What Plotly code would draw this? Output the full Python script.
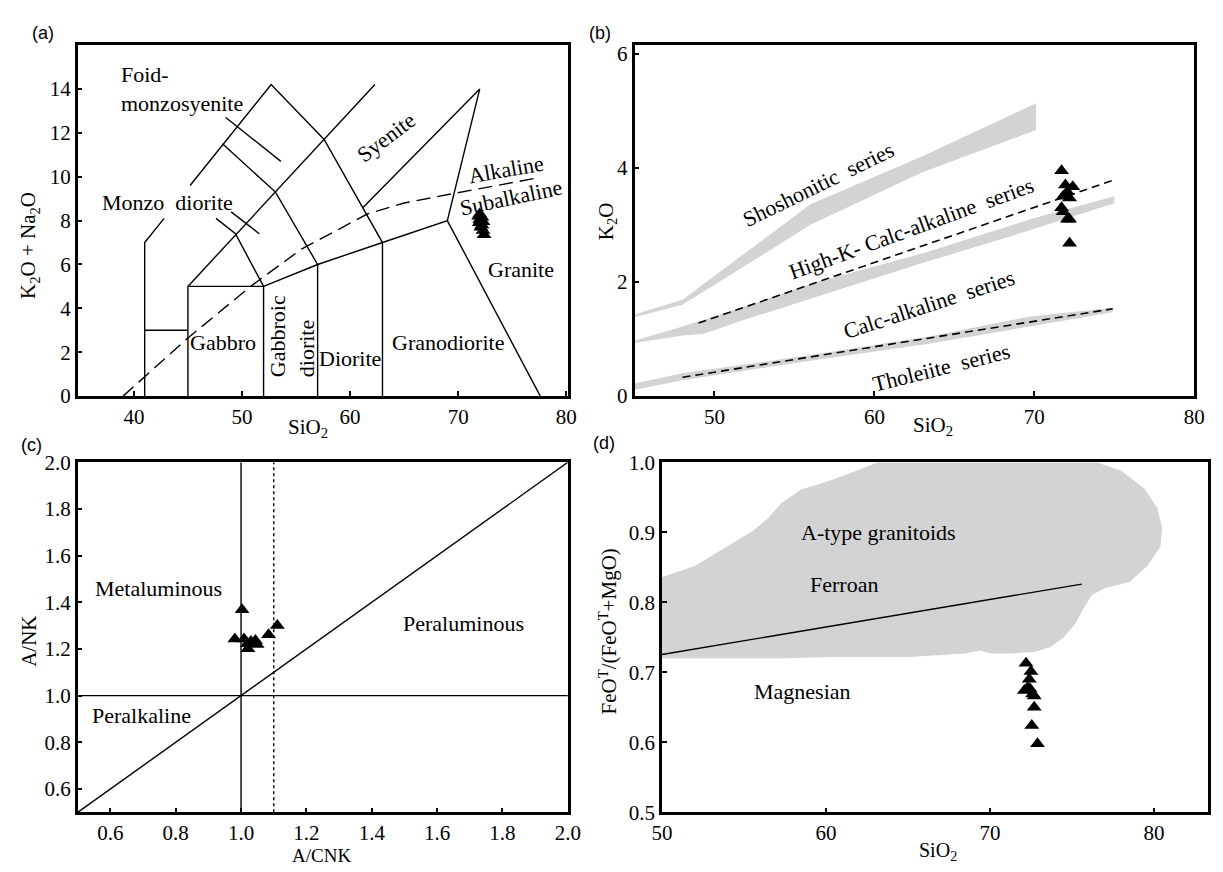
import plotly.graph_objects as go

W, H = 1223, 872
SERIF = "Liberation Serif"
SANS = "Liberation Sans"
GRAY = "#d1d3d4"

# ---------------- Panel (a): TAS diagram ----------------
a_b1_x = [41, 41, 42.8]
a_b1_y = [0, 7, 8.1]
a_b2_x = [45.2, 52.7, 57.6, 63, 63]
a_b2_y = [9.6, 14.2, 11.7, 7, 0]
a_b3_x = [52, 52, 45, 45]
a_b3_y = [0, 5, 5, 0]
a_b4_x = [41, 45]
a_b4_y = [3, 3]
a_b5_x = [45, 62.3]
a_b5_y = [5, 14.2]
a_b6_x = [52, 57, 63, 69, 72, 61.2]
a_b6_y = [5, 6, 7, 8, 14, 8.6]
a_b7_x = [69, 77.6]
a_b7_y = [8, 0]
a_b8_x = [57, 57]
a_b8_y = [0, 6]
a_b9_x = [48.2, 53.1, 57]
a_b9_y = [11.5, 9.3, 6]
a_b10_x = [47.6, 49.4, 52]
a_b10_y = [8.1, 7.4, 5]
a_b11_x = [48.5, 53.6]
a_b11_y = [12.7, 10.7]
a_b12_x = [49.0, 51.6]
a_b12_y = [8.4, 7.4]
a_alk_x = [39, 45, 50.8, 55.5, 61.6, 65, 69.2, 77.4]
a_alk_y = [0, 2.65, 5.0, 6.7, 8.3, 8.8, 9.2, 9.95]

a_sio2 = [72.0, 71.9, 72.2, 72.0, 72.1, 72.3, 71.95, 72.2, 72.1, 72.3, 72.4]
a_alk = [8.3, 8.2, 8.15, 8.05, 8.0, 7.95, 7.9, 7.8, 7.7, 7.55, 7.35]

a_labels = ["Foid-<br>monzosyenite", "Syenite", "Alkaline", "Subalkaline",
            "Monzo  diorite", "Granite", "Gabbro", "Gabbroic<br>diorite",
            "Diorite", "Granodiorite"]
a_lab_x = [38.6, 63.3, 74.4, 74.9, 43.1, 75.8, 48.2, 54.7, 60.0, 69.1]
a_lab_y = [14.0, 11.8, 10.35, 9.05, 8.84, 5.78, 2.44, 2.72, 1.7, 2.44]
a_lab_ang = [0, -37, -10, -12, 0, 0, 0, -90, 0, 0]

# ---------------- Panel (b): K2O vs SiO2 ----------------
b_band1_x = [45, 48, 56, 63, 70.1, 70.1, 63, 56, 48, 45]
b_band1_y = [1.43, 1.69, 3.36, 4.2, 5.13, 4.66, 3.92, 3.0, 1.6, 1.38]
b_band2_x = [45, 48, 52, 56.4, 63, 70, 75, 75, 70, 63, 56.4, 52, 49.3, 48, 45]
b_band2_y = [0.97, 1.22, 1.58, 2.0, 2.5, 3.12, 3.5, 3.38, 2.93, 2.33, 1.74, 1.35, 1.09, 1.06, 0.93]
b_band3_x = [45, 48, 56, 63.5, 69.6, 74.9, 74.9, 69.6, 63.5, 56, 48, 45]
b_band3_y = [0.22, 0.40, 0.72, 1.05, 1.39, 1.55, 1.47, 1.22, 0.92, 0.62, 0.28, 0.11]
b_hk_x = [49, 74.9]
b_hk_y = [1.28, 3.78]
b_th_x = [48, 74.9]
b_th_y = [0.33, 1.53]

b_sio2 = [71.7, 71.94, 72.4, 72.06, 71.8, 72.2, 71.7, 71.8, 72.06, 72.2, 72.2]
b_k2o = [3.95, 3.70, 3.67, 3.58, 3.50, 3.47, 3.30, 3.23, 3.10, 3.10, 2.68]

b_labels = ["Shoshonitic  series", "High-K- Calc-alkaline  series",
            "Calc-alkaline  series", "Tholeiite  series"]
b_lab_x = [56.5, 62.3, 63.4, 64.2]
b_lab_y = [3.70, 2.94, 1.60, 0.50]
b_lab_ang = [-26, -20, -18, -14]

# ---------------- Panel (c): A/NK vs A/CNK ----------------
c_acnk = [0.981, 1.003, 1.009, 1.019, 1.030, 1.021, 1.044, 1.049, 1.084, 1.111]
c_anK = [1.243, 1.368, 1.243, 1.222, 1.232, 1.201, 1.236, 1.219, 1.261, 1.301]
c_labels = ["Metaluminous", "Peraluminous", "Peralkaline"]
c_lab_x = [0.746, 1.68, 0.696]
c_lab_y = [1.458, 1.31, 0.917]

# ---------------- Panel (d): FeOT/(FeOT+MgO) vs SiO2 ----------------
d_field_x = [50, 52.0, 55.6, 56.5, 57.3, 58.5, 60.4, 63.2, 76.5, 78.0, 79.4, 80.2, 80.5,
             80.4, 79.6, 78.5, 77.0, 76.2, 75.6, 75.2, 74.5, 73.7, 72.7, 71.3, 70.1,
             69.4, 68.5, 67.0, 65.1, 62.7, 60.4, 57.5, 55.1, 50]
d_field_y = [0.836, 0.852, 0.903, 0.921, 0.942, 0.961, 0.975, 1.0, 1.0, 0.988, 0.963,
             0.935, 0.907, 0.880, 0.852, 0.829, 0.820, 0.810, 0.787, 0.769, 0.750,
             0.736, 0.729, 0.727, 0.727, 0.731, 0.727, 0.725, 0.722, 0.722, 0.722,
             0.720, 0.720, 0.720]
d_line_x = [50, 75.6]
d_line_y = [0.7255, 0.826]
d_sio2 = [72.2, 72.5, 72.4, 72.3, 72.1, 72.45, 72.6, 72.7, 72.7, 72.55, 72.9]
d_fe = [0.713, 0.701, 0.690, 0.678, 0.674, 0.676, 0.669, 0.666, 0.650, 0.624, 0.598]
d_labels = ["A-type granitoids", "Ferroan", "Magnesian"]
d_lab_x = [63.2, 61.1, 58.6]
d_lab_y = [0.899, 0.826, 0.672]

fig = go.Figure()


def line(xs, ys, xa, ya, dash="solid", width=1.4):
    fig.add_trace(go.Scatter(x=xs, y=ys, mode="lines", xaxis=xa, yaxis=ya,
                             line=dict(color="black", width=width, dash=dash),
                             hoverinfo="skip", showlegend=False))


def band(xs, ys, xa, ya):
    fig.add_trace(go.Scatter(x=xs, y=ys, mode="lines", fill="toself", fillcolor=GRAY,
                             line=dict(width=0, color=GRAY), xaxis=xa, yaxis=ya,
                             hoverinfo="skip", showlegend=False))


def pts(xs, ys, xa, ya):
    fig.add_trace(go.Scatter(x=xs, y=ys, mode="markers", xaxis=xa, yaxis=ya,
                             marker=dict(symbol="triangle-up", size=13, color="black",
                                         line=dict(width=0)),
                             showlegend=False))


# (a)
for xs, ys in [(a_b1_x, a_b1_y), (a_b2_x, a_b2_y), (a_b3_x, a_b3_y), (a_b4_x, a_b4_y),
               (a_b5_x, a_b5_y), (a_b6_x, a_b6_y), (a_b7_x, a_b7_y), (a_b8_x, a_b8_y),
               (a_b9_x, a_b9_y), (a_b10_x, a_b10_y), (a_b11_x, a_b11_y), (a_b12_x, a_b12_y)]:
    line(xs, ys, "x", "y")
line(a_alk_x, a_alk_y, "x", "y", dash="14px,7px")
pts(a_sio2, a_alk, "x", "y")

# (b)
band(b_band1_x, b_band1_y, "x2", "y2")
band(b_band2_x, b_band2_y, "x2", "y2")
band(b_band3_x, b_band3_y, "x2", "y2")
line(b_hk_x, b_hk_y, "x2", "y2", dash="8px,5px", width=1.6)
line(b_th_x, b_th_y, "x2", "y2", dash="8px,5px", width=1.6)
pts(b_sio2, b_k2o, "x2", "y2")

# (c)
line([1.0, 1.0], [0.5, 2.0], "x3", "y3")
line([1.1, 1.1], [0.5, 2.0], "x3", "y3", dash="3px,3px")
line([0.5, 2.0], [1.0, 1.0], "x3", "y3")
line([0.5, 2.0], [0.5, 2.0], "x3", "y3")
pts(c_acnk, c_anK, "x3", "y3")

# (d)
band(d_field_x, d_field_y, "x4", "y4")
line(d_line_x, d_line_y, "x4", "y4")
pts(d_sio2, d_fe, "x4", "y4")


def px(x):
    return x / W


def py(y):
    return 1 - y / H


ax_common = dict(showline=True, mirror=True, linecolor="black", linewidth=2.5,
                 ticks="inside", ticklen=5, tickwidth=1.5, tickcolor="black",
                 showgrid=False, zeroline=False,
                 tickfont=dict(family=SERIF, size=21, color="black"))

fig.update_layout(
    width=W, height=H, margin=dict(l=0, r=0, t=0, b=0),
    paper_bgcolor="white", plot_bgcolor="white", showlegend=False,
    xaxis=dict(domain=[px(68), px(568)], range=[34.8, 80.15], tickvals=[40, 50, 60, 70, 80],
               anchor="y", **ax_common),
    yaxis=dict(domain=[py(395), py(34)], range=[0, 16], tickvals=list(range(0, 16, 2)),
               anchor="x", **ax_common),
    xaxis2=dict(domain=[px(636), px(1207)], range=[45, 80], tickvals=[50, 60, 70, 80],
                anchor="y2", **ax_common),
    yaxis2=dict(domain=[py(395), py(34)], range=[0, 6.15], tickvals=[0, 2, 4, 6],
                anchor="x2", **ax_common),
    xaxis3=dict(domain=[px(68), px(568)], range=[0.5, 2.0],
                tickvals=[0.6, 0.8, 1.0, 1.2, 1.4, 1.6, 1.8, 2.0], tickformat=".1f",
                anchor="y3", **ax_common),
    yaxis3=dict(domain=[py(823), py(463)], range=[0.5, 2.0],
                tickvals=[0.6, 0.8, 1.0, 1.2, 1.4, 1.6, 1.8, 2.0], tickformat=".1f",
                anchor="x3", **ax_common),
    xaxis4=dict(domain=[px(664), px(1221)], range=[50, 83.3], tickvals=[50, 60, 70, 80],
                anchor="y4", **ax_common),
    yaxis4=dict(domain=[py(823), py(463)], range=[0.5, 1.0],
                tickvals=[0.5, 0.6, 0.7, 0.8, 0.9, 1.0], tickformat=".1f",
                anchor="x4", **ax_common),
)

ann = []
txt = dict(family=SERIF, size=22, color="black")
for t, x, y, a in zip(a_labels, a_lab_x, a_lab_y, a_lab_ang):
    ann.append(dict(text=t, x=x, y=y, xref="x", yref="y", showarrow=False, textangle=a,
                    font=txt, align="left",
                    xanchor="left" if t.startswith("Foid") else "center"))
for t, x, y, a in zip(b_labels, b_lab_x, b_lab_y, b_lab_ang):
    ann.append(dict(text=t, x=x, y=y, xref="x2", yref="y2", showarrow=False, textangle=a,
                    font=txt))
for t, x, y in zip(c_labels, c_lab_x, c_lab_y):
    ann.append(dict(text=t, x=x, y=y, xref="x3", yref="y3", showarrow=False, font=txt))
for t, x, y in zip(d_labels, d_lab_x, d_lab_y):
    ann.append(dict(text=t, x=x, y=y, xref="x4", yref="y4", showarrow=False, font=txt))

title_font = dict(family=SERIF, size=21, color="black")
titles = [
    ("K<sub>2</sub>O + Na<sub>2</sub>O", 19, 240, -90, 21),
    ("SiO<sub>2</sub>", 303, 428, 0, 21),
    ("K<sub>2</sub>O", 608, 215, -90, 21),
    ("SiO<sub>2</sub>", 940, 426, 0, 21),
    ("A/NK", 19, 647, -90, 21),
    ("A/CNK", 317, 867, 0, 19),
    ("FeO<sup>T</sup>/(FeO<sup>T</sup>+MgO)", 609, 637, -90, 21),
    ("SiO<sub>2</sub>", 946, 863, 0, 20),
]
for t, x, y, a, s in titles:
    ann.append(dict(text=t, x=px(x), y=py(y), xref="paper", yref="paper", showarrow=False,
                    textangle=a, font=dict(family=SERIF, size=s, color="black"),
                    xanchor="center", yanchor="middle"))

panel_font = dict(family=SANS, size=18, color="black")
for t, x, y in [("(a)", 33, 22), ("(b)", 601, 22), ("(c)", 21, 445), ("(d)", 605, 443)]:
    ann.append(dict(text=t, x=px(x), y=py(y), xref="paper", yref="paper", showarrow=False,
                    font=panel_font, xanchor="center", yanchor="middle"))

fig.update_layout(annotations=ann)
fig.write_html("out.html")
